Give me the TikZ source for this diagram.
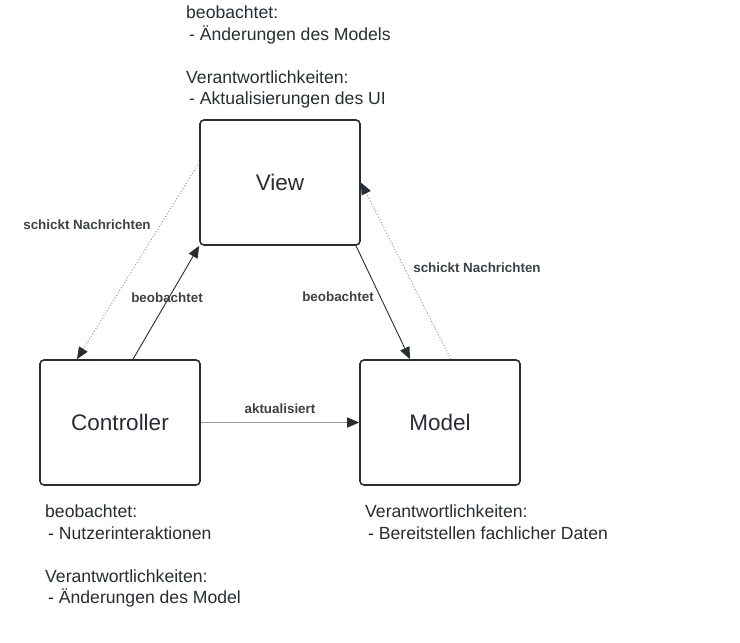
\documentclass[tikz,border=0pt]{standalone}
\usepackage{fontspec}
\setmainfont{Liberation Sans}
\definecolor{InkGray}{RGB}{40,44,51}
\definecolor{LineGray}{RGB}{150,152,156}
\usetikzlibrary{arrows.meta, positioning}

\tikzset{
  box/.style={draw=InkGray, line width=1.6pt, rounded corners=4pt,
              minimum width=160pt, minimum height=125pt,
              font=\fontsize{22.5}{26}\selectfont, text=InkGray},
  lbl/.style={font=\fontsize{13.4}{16}\selectfont\bfseries, text=InkGray!90},
  note/.style={anchor=north west, align=left, inner sep=0pt,
               font=\fontsize{17.6}{21.5}\selectfont, text=InkGray},
  tip/.style={-{Triangle[length=12pt,width=10pt,color=InkGray]}},
  link/.style={tip, draw=InkGray, line width=0.9pt},
  msg/.style={tip, draw=LineGray, dotted, line width=1pt}
}

\begin{document}
\begin{tikzpicture}[x=1pt, y=-1pt]
\useasboundingbox (0,0) rectangle (740,643);

% the three parts
\node[box] (view)  at (280,182.5) {View};
\node[box] (ctrl)  at (120,422.5) {Controller};
\node[box] (model) at (440,422.5) {Model};

% connectors
\draw[msg]  ([yshift=20pt]view.west) -- ([xshift=-43pt]ctrl.north);
\draw[link] ([xshift=13pt]ctrl.north) -- (view.south west);
\draw[link] ([xshift=76pt]view.south) -- ([xshift=-30pt]model.north);
\draw[msg]  ([xshift=11pt]model.north) -- (view.east);
\draw[tip, draw=LineGray, line width=1.6pt] (ctrl.east) -- (model.west);

% connector labels
\node[lbl] (sendCV) at (87,225)  {schickt Nachrichten};
\node[lbl] (obsCV)  at (167,298) {beobachtet};
\node[lbl] (obsVM)  at (338,297) {beobachtet};
\node[lbl] (sendMV) at (477,268) {schickt Nachrichten};
\node[lbl] (upd)    at (280,409) {aktualisiert};

% notes
\node[note] (viewNote) at (186,6)
  {beobachtet:\\ \hspace{3pt}- Änderungen des Models\\[21.5pt]
   Verantwortlichkeiten:\\ \hspace{3pt}- Aktualisierungen des UI};
\node[note] (ctrlNote) at (45,505)
  {beobachtet:\\ \hspace{3pt}- Nutzerinteraktionen\\[21.5pt]
   Verantwortlichkeiten:\\ \hspace{3pt}- Änderungen des Model};
\node[note] (modelNote) at (365,505)
  {Verantwortlichkeiten:\\ \hspace{3pt}- Bereitstellen fachlicher Daten};
\end{tikzpicture}
\end{document}
